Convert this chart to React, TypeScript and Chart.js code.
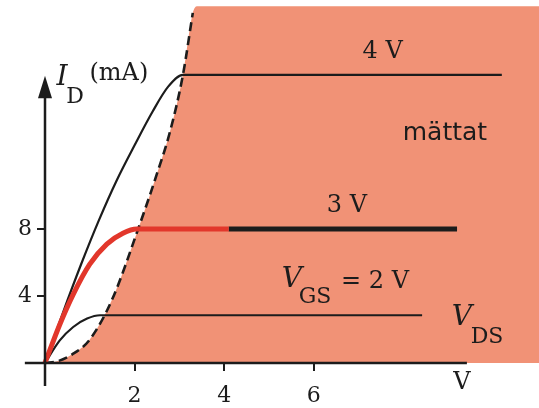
import { useEffect, useRef } from "react";
import { Chart, registerables } from "chart.js";

Chart.register(...registerables);

// Tick values on the axes
const xTicks = [2, 4, 6];
const yTicks = [4, 8];

// Edge of the saturation region (V_DS in V, I_D in mA)
const boundaryVds = [0, 0.3, 0.6, 1.0, 1.5, 2.08, 2.5, 2.79, 3.08, 3.3];
const boundaryId = [0, 0.12, 0.5, 1.4, 3.8, 8.0, 11.3, 13.8, 17.2, 20.9];
const regionCornerVds = 3.4;
const regionTopId = 21.3;
const regionRightVds = 11.1;

// Output characteristics, V_GS = 4 V
const vgs4Vds = [0, 0.4, 0.8, 1.2, 1.6, 2.0, 2.4, 2.75, 3.08, 10.2];
const vgs4Id = [0, 3.0, 5.85, 8.5, 10.9, 13.0, 15.0, 16.5, 17.2, 17.2];

// V_GS = 3 V (ohmic part highlighted, then the saturated part)
const vgs3Vds = [0, 0.33, 0.63, 1.0, 1.38, 1.74, 2.05, 4.1];
const vgs3Id = [0, 2.3, 4.1, 5.9, 7.1, 7.75, 8.0, 8.0];
const vgs3SatVds = [4.1, 9.2];
const vgs3SatId = [8.0, 8.0];

// V_GS = 2 V
const vgs2Vds = [0, 0.33, 0.63, 0.94, 1.23, 8.42];
const vgs2Id = [0, 1.35, 2.15, 2.65, 2.85, 2.85];

const INK = "#1c1c1c";
const SALMON = "#F19276";
const RED = "#E2372B";
const SERIF = "'DejaVu Serif', serif";
const SANS = "'DejaVu Sans', sans-serif";

const pts = (xs: number[], ys: number[]) => xs.map((x, i) => ({ x, y: ys[i] }));

const overlay = {
  id: "overlay",
  afterDatasetsDraw(chart: any) {
    const { ctx } = chart;
    const xs = chart.scales.x;
    const ys = chart.scales.y;
    const px = (v: number) => xs.getPixelForValue(v);
    const py = (v: number) => ys.getPixelForValue(v);
    ctx.save();
    ctx.strokeStyle = INK;
    ctx.fillStyle = INK;
    ctx.lineWidth = 2.5;
    ctx.lineCap = "butt";

    // horizontal axis
    ctx.beginPath();
    ctx.moveTo(px(-0.45), py(0));
    ctx.lineTo(px(9.42), py(0));
    ctx.stroke();

    // vertical axis with arrow head
    ctx.beginPath();
    ctx.moveTo(px(0), py(-1.37));
    ctx.lineTo(px(0), py(16.0));
    ctx.stroke();
    ctx.beginPath();
    ctx.moveTo(px(0), py(17.15));
    ctx.lineTo(px(0) - 7, py(15.8));
    ctx.lineTo(px(0) + 7, py(15.8));
    ctx.closePath();
    ctx.fill();

    const text = (s: string, vx: number, vy: number, font: string) => {
      ctx.font = font;
      ctx.textAlign = "center";
      ctx.textBaseline = "middle";
      ctx.fillText(s, px(vx), py(vy));
    };

    const up = `24px ${SERIF}`;
    const sub = `22px ${SERIF}`;
    const it = `italic 28px ${SERIF}`;

    text("4 V", 7.54, 18.57, up);
    text("3 V", 6.74, 9.37, up);
    text("mättat", 8.93, 13.73, `25px ${SANS}`);

    text("V", 5.51, 4.99, it);
    text("GS", 6.03, 3.91, sub);
    text("= 2 V", 7.37, 4.87, up);

    text("V", 9.31, 2.69, it);
    text("DS", 9.87, 1.55, sub);

    text("I", 0.38, 17.01, it);
    text("D", 0.67, 15.88, sub);
    text("(mA)", 1.65, 17.25, up);

    text("V", 9.31, -1.19, up);
    ctx.restore();
  },
};

export default function App() {
  const ref = useRef<HTMLCanvasElement | null>(null);

  useEffect(() => {
    if (!ref.current) return;
    const line = {
      pointRadius: 0,
      fill: false,
      clip: false as const,
      cubicInterpolationMode: "monotone" as const,
    };
    const chart = new Chart(ref.current, {
      type: "line",
      data: {
        datasets: [
          { ...line, data: pts(vgs3Vds, vgs3Id), borderColor: RED, borderWidth: 5 },
          { ...line, data: pts(vgs3SatVds, vgs3SatId), borderColor: INK, borderWidth: 5 },
          { ...line, data: pts(vgs4Vds, vgs4Id), borderColor: INK, borderWidth: 2.2 },
          { ...line, data: pts(vgs2Vds, vgs2Id), borderColor: INK, borderWidth: 2.2 },
          {
            ...line,
            data: pts(boundaryVds, boundaryId),
            borderColor: INK,
            borderWidth: 2.6,
            borderDash: [9, 5],
          },
          {
            data: [
              ...pts(boundaryVds, boundaryId),
              { x: regionCornerVds, y: regionTopId },
              { x: regionRightVds, y: regionTopId },
            ],
            pointRadius: 0,
            borderWidth: 0,
            borderColor: "rgba(0,0,0,0)",
            backgroundColor: SALMON,
            fill: "origin",
            cubicInterpolationMode: "monotone",
          },
        ],
      },
      options: {
        animation: false,
        responsive: true,
        maintainAspectRatio: false,
        layout: { padding: 0 },
        plugins: { legend: { display: false }, tooltip: { enabled: false } },
        scales: {
          x: {
            type: "linear",
            position: "bottom",
            min: 0,
            max: 11.03,
            afterFit: (s: any) => {
              s.height = 45;
              s.paddingLeft = 0;
              s.paddingRight = 0;
            },
            afterBuildTicks: (s: any) => {
              s.ticks = xTicks.map((value) => ({ value }));
            },
            border: { display: false },
            grid: {
              display: true,
              drawOnChartArea: false,
              drawTicks: true,
              tickLength: 8,
              lineWidth: 2,
              color: INK,
            },
            ticks: {
              color: INK,
              font: { family: SERIF, size: 22 },
              padding: 12,
              autoSkip: false,
              maxRotation: 0,
              callback: (v: any) => String(v),
            },
          },
          y: {
            type: "linear",
            position: "left",
            min: 0,
            max: 21.67,
            afterFit: (s: any) => {
              s.width = 45;
              s.paddingTop = 0;
              s.paddingBottom = 0;
            },
            afterBuildTicks: (s: any) => {
              s.ticks = yTicks.map((value) => ({ value }));
            },
            border: { display: false },
            grid: {
              display: true,
              drawOnChartArea: false,
              drawTicks: true,
              tickLength: 8,
              lineWidth: 2,
              color: INK,
            },
            ticks: {
              color: INK,
              font: { family: SERIF, size: 22 },
              padding: 5,
              autoSkip: false,
              callback: (v: any) => String(v),
            },
          },
        },
      },
      plugins: [overlay],
    });
    return () => chart.destroy();
  }, []);

  return (
    <div
      style={{
        position: "fixed",
        left: 0,
        top: 0,
        width: 539,
        height: 408,
        background: "#ffffff",
      }}
    >
      <canvas ref={ref} />
    </div>
  );
}
